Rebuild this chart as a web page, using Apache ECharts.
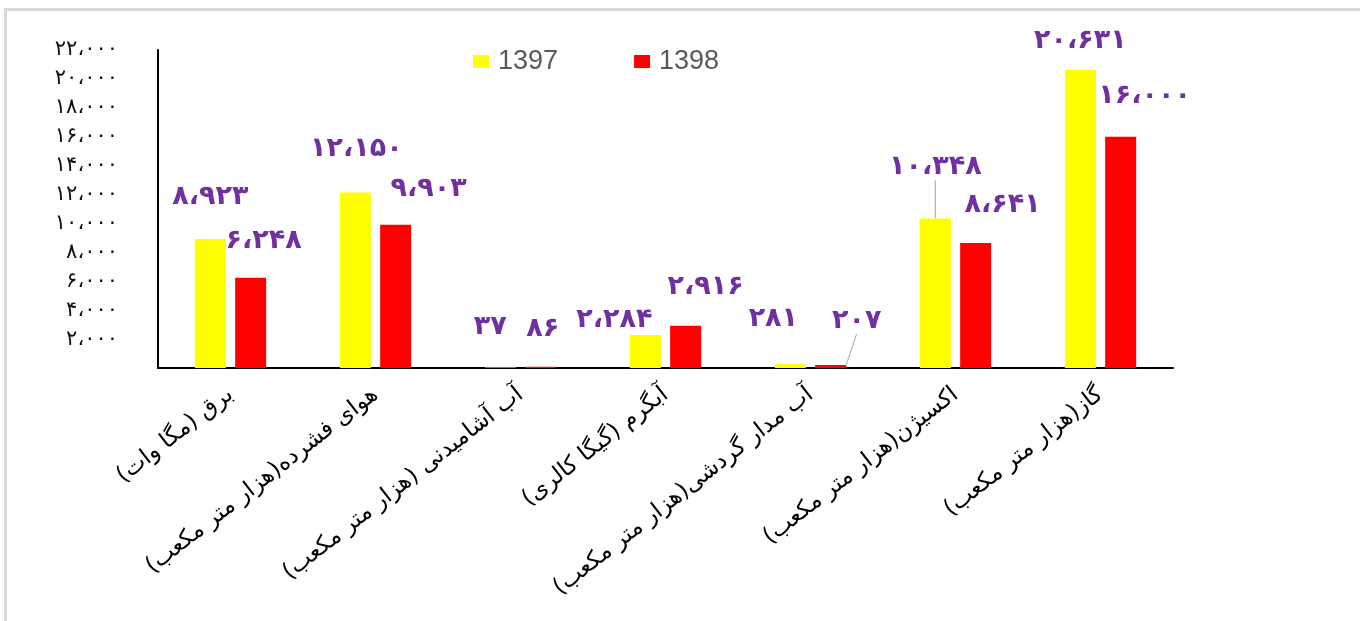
<!DOCTYPE html>
<html>
<head>
<meta charset="utf-8">
<script src="https://cdn.jsdelivr.net/npm/echarts@6/dist/echarts.min.js"></script>
<style>
html,body{margin:0;padding:0;background:#fff;}
#chart{width:1360px;height:621px;}
</style>
</head>
<body>
<div id="chart"></div>
<script>
// ---- data ----
const categories = [
  'برق (مگا وات)',
  'هوای فشرده(هزار متر مکعب)',
  'آب آشامیدنی (هزار متر مکعب)',
  'آبگرم (گیگا کالری)',
  'آب مدار گردشی(هزار متر مکعب)',
  'اکسیژن(هزار متر مکعب)',
  'گاز(هزار متر مکعب)'
];
const seriesNames = ['1397', '1398'];
const values1397 = [8923, 12150, 37, 2284, 281, 10348, 20631];
const values1398 = [6248, 9903, 86, 2916, 207, 8641, 16000];
const yMin = 0, yMax = 22000, yStep = 2000;

// label nudges (layout only)
const labelNudge1397 = [[0,-24],[1,-25],[-10,-22],[-31,3],[-17,-26],[0,-33],[0,-10]];
const labelNudge1398 = [[13,-18],[33,-17],[2,-19],[20,-20],[26,-26],[27,-20],[24,-22]];
const leaderLine1397 = [false,false,false,false,false,true,false];
const leaderLine1398 = [false,false,false,false,true,false,false];

const faDigits = '۰۱۲۳۴۵۶۷۸۹';
function toFa(n){
  return Math.round(n).toLocaleString('en-US')
    .replace(/[0-9]/g, d => faDigits[+d]).replace(/,/g, '،');
}

const chart = echarts.init(document.getElementById('chart'), null, {renderer:'canvas'});
const nudges = [labelNudge1397, labelNudge1398];
const leaders = [leaderLine1397, leaderLine1398];
const colors = ['#FFFF00', '#FF0000'];

function makeSeries(idx, vals){
  return {
    name: seriesNames[idx],
    type: 'bar',
    barWidth: 31,
    barGap: '30%',
    itemStyle: {color: colors[idx]},
    data: vals.map((v, i) => ({
      value: v,
      labelLine: {show: leaders[idx][i]}
    })),
    label: {
      show: true,
      position: 'top',
      distance: 5,
      color: '#7030A0',
      fontFamily: 'DejaVu Sans',
      fontSize: 27,
      fontWeight: 'bold',
      formatter: p => toFa(p.value)
    },
    labelLine: {
      show: false,
      lineStyle: {color: '#A6A6A6', width: 1}
    },
    labelLayout: p => ({dx: nudges[idx][p.dataIndex][0], dy: nudges[idx][p.dataIndex][1]})
  };
}

chart.setOption({
  animation: false,
  backgroundColor: '#fff',
  graphic: [
    {type:'rect', shape:{x:4, y:8, width:1360, height:3}, style:{fill:'#D9D9D9'}, silent:true},
    {type:'rect', shape:{x:4, y:8, width:3, height:621}, style:{fill:'#D9D9D9'}, silent:true}
  ],
  legend: {
    left: 468, top: 43,
    itemWidth: 16, itemHeight: 13,
    itemGap: 76,
    icon: 'rect',
    textStyle: {color:'#595959', fontSize: 27, fontFamily: 'Liberation Sans', padding:[0,0,0,4]},
    data: seriesNames
  },
  grid: {left: 158, right: 187, top: 50, bottom: 253, containLabel: false},
  xAxis: {
    type: 'category',
    data: categories,
    axisLine: {show: true, lineStyle: {color:'#000', width: 2}},
    axisTick: {show: false},
    axisLabel: {
      interval: 0,
      rotate: 38,
      margin: 24,
      color: '#000',
      fontFamily: 'DejaVu Sans',
      fontSize: 23,
      formatter: s => s + '\u200F'
    }
  },
  yAxis: {
    type: 'value',
    min: yMin, max: yMax, interval: yStep,
    splitLine: {show: false},
    axisLine: {show: true, lineStyle: {color:'#000', width: 2}},
    axisTick: {show: false},
    axisLabel: {
      margin: 40,
      color: '#111',
      fontFamily: 'DejaVu Sans',
      fontSize: 21,
      padding: [0,0,8,0],
      formatter: v => v === 0 ? '' : toFa(v)
    }
  },
  series: [makeSeries(0, values1397), makeSeries(1, values1398)]
});
</script>
</body>
</html>
